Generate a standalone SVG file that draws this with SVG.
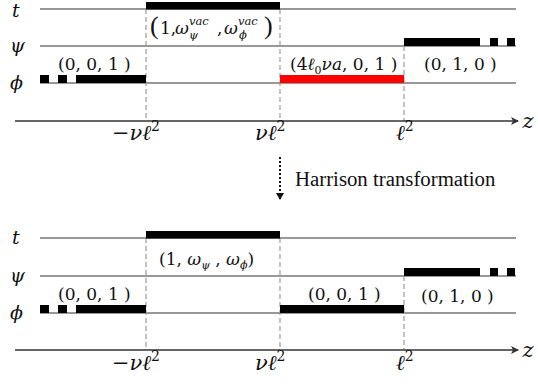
<svg xmlns="http://www.w3.org/2000/svg" width="538" height="388" viewBox="0 0 538 388">
<style>
.ln{stroke:#333;stroke-width:1.2;fill:none}
.ax{stroke:#333;stroke-width:1.6;fill:none}
.dash{stroke:#999;stroke-width:1.2;stroke-dasharray:5 3;fill:none}
.bar{fill:#000}
.red{fill:#ff0000}
.m{font-family:"DejaVu Serif","Liberation Serif",serif;font-size:17px;fill:#111}
.mi{font-family:"DejaVu Serif","Liberation Serif",serif;font-size:19px;font-style:italic;fill:#111}
.al{font-family:"DejaVu Serif","Liberation Serif",serif;font-size:21px;font-style:italic;fill:#111}
.ss{font-family:"DejaVu Serif","Liberation Serif",serif;font-size:11.5px;font-style:italic;fill:#111}
.bp{font-family:"Liberation Serif","Times New Roman",serif;font-size:26px;fill:#111}
.sub{font-size:11px}
.sup2{font-size:14px;font-style:normal}
.ht{font-family:"Liberation Serif","Times New Roman",serif;font-size:20.8px;fill:#111}
</style>
<defs>
<marker id="ah" markerWidth="10" markerHeight="10" refX="8" refY="5" orient="auto" markerUnits="userSpaceOnUse">
<path d="M1,1 L9,5 L1,9 L3,5 Z" fill="#333"/>
</marker>
<marker id="ah2" markerWidth="8" markerHeight="8" refX="4" refY="7" orient="0" markerUnits="userSpaceOnUse">
<path d="M0,1 L8,1 L4,8 Z" fill="#111"/>
</marker>
</defs>

<g id="top">
<g id="top-lines">
<line class="ln" x1="40" y1="9" x2="516" y2="9"/>
<line class="ln" x1="40" y1="46" x2="516" y2="46"/>
<line class="ln" x1="40" y1="83" x2="516" y2="83"/>
<line class="dash" x1="146" y1="9" x2="146" y2="121"/>
<line class="dash" x1="280" y1="9" x2="280" y2="121"/>
<line class="dash" x1="404" y1="46" x2="404" y2="121"/>
<line class="ax" x1="15" y1="121" x2="518" y2="121" marker-end="url(#ah)"/>
</g>
<g id="top-bars">
<rect class="bar" x="146" y="2" width="134" height="7.5"/>
<rect class="bar" x="404" y="38" width="76" height="8"/>
<rect class="bar" x="490" y="38" width="8" height="8"/>
<rect class="bar" x="507" y="38" width="8" height="8"/>
<rect class="bar" x="40" y="75" width="9" height="8"/>
<rect class="bar" x="58" y="75" width="9" height="8"/>
<rect class="bar" x="76" y="75" width="70" height="8"/>
<rect class="red" x="280" y="75" width="124" height="8"/>
</g>
<g id="top-labels">
<text class="mi" x="12" y="17">t</text>
<text class="mi" x="10" y="52">ψ</text>
<text class="mi" x="10" y="89">ϕ</text>
<g id="vac-tuple">
<text class="bp" x="150" y="33.5">(</text>
<text class="m" x="160" y="34">1,</text>
<text class="m" x="175" y="34" font-size="18" font-style="italic">ω</text>
<text class="ss" x="189" y="25">vac</text>
<text class="ss" x="189" y="38.5">ψ</text>
<text class="m" x="217" y="34">,</text>
<text class="m" x="224" y="34" font-size="18" font-style="italic">ω</text>
<text class="ss" x="238" y="25">vac</text>
<text class="ss" x="239" y="38.5">ϕ</text>
<text class="bp" x="264" y="33.5">)</text>
</g>
<text class="m" x="58" y="70">(0, 0, 1 )</text>
<text class="m" x="290" y="70">(4<tspan font-style="italic">ℓ</tspan><tspan class="sub" dy="4">0</tspan><tspan font-style="italic" dy="-4">νa</tspan>, 0, 1 )</text>
<text class="m" x="424" y="70">(0, 1, 0 )</text>
<text class="al" x="112" y="140">−νℓ<tspan class="sup2" dy="-9">2</tspan></text>
<text class="al" x="255" y="140">νℓ<tspan class="sup2" dy="-9">2</tspan></text>
<text class="al" x="396" y="140">ℓ<tspan class="sup2" dy="-9">2</tspan></text>
<text class="al" x="528" y="128" text-anchor="middle">z</text>
</g>
</g>

<g id="transform">
<line x1="280" y1="157" x2="280" y2="199" stroke="#111" stroke-width="2" stroke-dasharray="2 2" marker-end="url(#ah2)"/>
<text class="ht" x="295" y="186">Harrison transformation</text>
</g>

<g id="bottom">
<g id="bottom-lines">
<line class="ln" x1="40" y1="238" x2="516" y2="238"/>
<line class="ln" x1="40" y1="276" x2="516" y2="276"/>
<line class="ln" x1="40" y1="313" x2="516" y2="313"/>
<line class="dash" x1="146" y1="238" x2="146" y2="350"/>
<line class="dash" x1="280" y1="238" x2="280" y2="350"/>
<line class="dash" x1="404" y1="276" x2="404" y2="350"/>
<line class="ax" x1="15" y1="350" x2="518" y2="350" marker-end="url(#ah)"/>
</g>
<g id="bottom-bars">
<rect class="bar" x="146" y="231" width="134" height="7.5"/>
<rect class="bar" x="404" y="268" width="76" height="8"/>
<rect class="bar" x="490" y="268" width="8" height="8"/>
<rect class="bar" x="507" y="268" width="8" height="8"/>
<rect class="bar" x="40" y="305" width="9" height="8"/>
<rect class="bar" x="58" y="305" width="9" height="8"/>
<rect class="bar" x="76" y="305" width="70" height="8"/>
<rect class="bar" x="280" y="305" width="124" height="8"/>
</g>
<g id="bottom-labels">
<text class="mi" x="12" y="244">t</text>
<text class="mi" x="10" y="282">ψ</text>
<text class="mi" x="10" y="319">ϕ</text>
<text class="m" x="159" y="265">(1, <tspan font-style="italic">ω</tspan><tspan class="sub" font-style="italic" dy="4">ψ</tspan><tspan dy="-4"> , </tspan><tspan font-style="italic">ω</tspan><tspan class="sub" font-style="italic" dy="4">ϕ</tspan><tspan dy="-4">)</tspan></text>
<text class="m" x="58" y="300">(0, 0, 1 )</text>
<text class="m" x="308" y="300">(0, 0, 1 )</text>
<text class="m" x="421" y="302">(0, 1, 0 )</text>
<text class="al" x="112" y="370">−νℓ<tspan class="sup2" dy="-9">2</tspan></text>
<text class="al" x="255" y="370">νℓ<tspan class="sup2" dy="-9">2</tspan></text>
<text class="al" x="396" y="370">ℓ<tspan class="sup2" dy="-9">2</tspan></text>
<text class="al" x="528" y="357" text-anchor="middle">z</text>
</g>
</g>
</svg>
